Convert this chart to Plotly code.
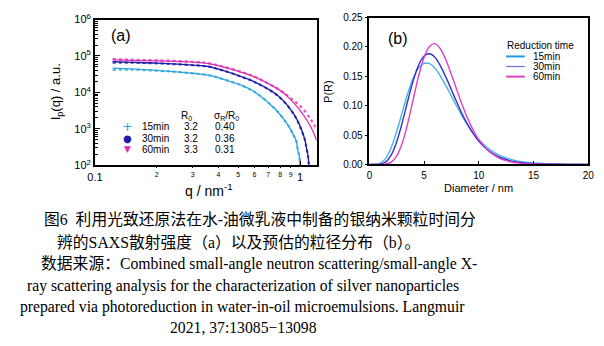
import plotly.graph_objects as go
import math

# ---------------- data: panel (a) scattering intensity ----------------
q15 = [0.122, 0.15, 0.2, 0.25, 0.3, 0.357, 0.42, 0.524, 0.606, 0.754, 0.874, 0.93, 0.957, 0.975, 0.992, 1.0]
I15_fit = [46300, 44200, 40300, 36800, 33600, 29800, 23300, 15300, 10000, 3570, 1270, 662, 483, 264, 173, 80]
I15_dat = [41700, 42000, 39500, 36500, 33400, 29700, 23200, 15200, 9950, 3550, 1260, 655, 478, 260, 170, 78]

q30 = [0.122, 0.15, 0.2, 0.3, 0.357, 0.42, 0.524, 0.606, 0.783, 0.939, 1.048, 1.075, 1.095, 1.106]
I30_fit = [69500, 67000, 63500, 56200, 51400, 40300, 26400, 18900, 8000, 2380, 580, 298, 173, 80]
I30_dat = [66000, 65500, 62800, 56000, 51200, 40100, 26300, 18800, 7950, 2360, 575, 295, 170, 78]

q60 = [0.122, 0.15, 0.2, 0.3, 0.357, 0.42, 0.524, 0.606, 0.812, 0.9, 1.011, 1.129, 1.205]
I60_fit = [78500, 76000, 73000, 67500, 62000, 50500, 35200, 26000, 10700, 6350, 2980, 1130, 483]
I60_dat = [82500, 79000, 76200, 69500, 63500, 51400, 35700, 26400, 10800, 6950, 4030, 1830, 940]

legend_names = ["15min", "30min", "60min"]
R0_vals = ["3.2", "3.2", "3.3"]
sig_vals = ["0.40", "0.36", "0.31"]

# ---------------- data: panel (b) size distribution ----------------
D = [0, 0.5, 1, 1.5, 2, 2.5, 3, 3.5, 4, 4.5, 5, 5.5, 6, 6.5, 7, 7.5, 8, 8.5, 9, 9.5, 10, 11, 12, 13, 14, 15, 16, 18, 20]
P15 = [0, 0, 0.0021, 0.0106, 0.0291, 0.0566, 0.0890, 0.1206, 0.1467, 0.1643, 0.1722, 0.1715, 0.1635, 0.1501,
       0.1337, 0.1159, 0.0982, 0.0815, 0.0663, 0.0532, 0.0421, 0.0253, 0.0145, 0.0081, 0.0043, 0.0023, 0.0012, 0.0003, 0.0001]
P30 = [0, 0, 0.0005, 0.0043, 0.0161, 0.0389, 0.0712, 0.1080, 0.1424, 0.1691, 0.1845, 0.1884, 0.1820, 0.1675,
       0.1482, 0.1268, 0.1053, 0.0851, 0.0672, 0.0520, 0.0395, 0.0217, 0.0113, 0.0056, 0.0027, 0.0012, 0.0006, 0.0001, 0]
P60 = [0, 0, 0, 0.0006, 0.0040, 0.0146, 0.0365, 0.0700, 0.1106, 0.1508, 0.1825, 0.2013, 0.2056, 0.1963,
       0.1773, 0.1527, 0.1261, 0.1004, 0.0774, 0.0579, 0.0422, 0.0210, 0.0096, 0.0041, 0.0017, 0.0007, 0.0002, 0, 0]

ytick_vals = [1e2, 1e3, 1e4, 1e5, 1e6]
ytick_text = ["10<sup>2</sup>", "10<sup>3</sup>", "10<sup>4</sup>", "10<sup>5</sup>", "10<sup>6</sup>"]
xmaj_vals = [0.1, 1]
xmaj_text = ["0.1", "1"]
xmin_vals = [0.2, 0.3, 0.4, 0.5, 0.6, 0.7, 0.8, 0.9]
xmin_text = ["2", "3", "4", "5", "6", "7", "8", "9"]

# caption: (cjk part, latin part) per line
caption = [
    ("图6  利用光致还原法在水-油微乳液中制备的银纳米颗粒时间分", ""),
    ("辨的SAXS散射强度（a）以及预估的粒径分布（b）。", ""),
    ("数据来源：", "Combined small-angle neutron scattering/small-angle X-"),
    ("", "ray scattering analysis for the characterization of silver nanoparticles"),
    ("", "prepared via photoreduction in water-in-oil microemulsions. Langmuir"),
    ("", "2021, 37:13085−13098"),
]

# ---------------- styles ----------------
W, H = 604, 346
CA = ["#2aa6e2", "#1c1ca8", "#e02cb4"]      # panel a colors
CB = ["#45b2ec", "#3434c4", "#e23ccc"]      # panel b colors
CL = ["#1e9be0", "#7474e2", "#e040c0"]      # legend b colors
SANS = "Liberation Sans, Arial, sans-serif"
SERIF = "Liberation Serif, Times New Roman, Noto Sans CJK SC, serif"


def px(x):
    return x / W


def py(y):
    return 1 - y / H


fig = go.Figure()

# panel (a)
for q, fit, dat, c in [(q15, I15_fit, I15_dat, CA[0]), (q30, I30_fit, I30_dat, CA[1]), (q60, I60_fit, I60_dat, CA[2])]:
    fig.add_trace(go.Scatter(x=q, y=dat, mode="lines", line=dict(color=c, width=2.2, dash="dot", shape="spline"),
                             xaxis="x", yaxis="y", opacity=0.8))
    fig.add_trace(go.Scatter(x=q, y=fit, mode="lines", line=dict(color=c, width=1.3, shape="spline"),
                             xaxis="x", yaxis="y"))
# invisible trace so that the minor-label axis is rendered
fig.add_trace(go.Scatter(x=q15, y=I15_fit, mode="lines", opacity=0, xaxis="x3", yaxis="y",
                         hoverinfo="skip", line=dict(width=0)))

# panel (b)
for p, c in zip([P15, P30, P60], CB):
    fig.add_trace(go.Scatter(x=D, y=p, mode="lines", line=dict(color=c, width=1.4, shape="spline"),
                             xaxis="x2", yaxis="y2"))

minor_y = [m * 10 ** e for e in range(2, 6) for m in range(2, 10)]

fig.update_layout(
    width=W, height=H, margin=dict(l=0, r=0, t=0, b=0),
    paper_bgcolor="white", plot_bgcolor="white", showlegend=False,
    font=dict(family=SANS, color="black", size=10),
    xaxis=dict(type="log", range=[-1, math.log10(1.205)], domain=[px(89), px(316)], anchor="y",
               showline=True, linecolor="black", linewidth=1.8, mirror=True,
               ticks="inside", ticklen=4, tickcolor="black", tickvals=xmaj_vals, ticktext=xmaj_text,
               tickfont=dict(size=11), showgrid=False, zeroline=False, ticklabelstandoff=1),
    xaxis3=dict(type="log", range=[-1, math.log10(1.205)], overlaying="x", anchor="y", side="bottom",
                ticks="outside", ticklen=2, tickcolor="black", tickvals=xmin_vals, ticktext=xmin_text,
                tickfont=dict(size=7), showgrid=False, zeroline=False, showline=False, ticklabelstandoff=0),
    yaxis=dict(type="log", range=[2, 6], domain=[py(164), py(12)], anchor="x",
               showline=True, linecolor="black", linewidth=1.8, mirror=True,
               ticks="inside", ticklen=5, tickcolor="black", tickvals=ytick_vals, ticktext=ytick_text,
               tickfont=dict(size=11), showgrid=False, zeroline=False,
               minor=dict(ticks="inside", ticklen=3, tickcolor="black", tickvals=minor_y, showgrid=False)),
    xaxis2=dict(range=[0, 20], domain=[px(370), px(594)], anchor="y2",
                showline=True, linecolor="black", linewidth=1.5, mirror=True,
                ticks="inside", ticklen=4, tickcolor="black", dtick=5, tick0=0,
                tickfont=dict(size=10), showgrid=False, zeroline=False, ticklabelstandoff=1),
    yaxis2=dict(range=[0, 0.25], domain=[py(163), py(10)], anchor="x2",
                showline=True, linecolor="black", linewidth=1.5, mirror=True,
                ticks="outside", ticklen=3, tickcolor="black", dtick=0.05, tick0=0, tickformat=".2f",
                tickfont=dict(size=10), showgrid=False, zeroline=False),
)

ann = []


def text(x, y, s, size, xanchor="center", color="black", family=SANS, angle=0):
    ann.append(dict(x=px(x), y=py(y), xref="paper", yref="paper", text=s, showarrow=False,
                    xanchor=xanchor, yanchor="middle", textangle=angle,
                    font=dict(size=size, color=color, family=family)))


# panel (a) labels
text(115.5, 29, "(a)", 16)
text(50, 87, "I<sub>p</sub>(q) / a.u.", 13, angle=-90)
text(206, 190, "q / nm<sup>-1</sup>", 14)
text(183, 113, "R<sub>0</sub>", 10)
text(223.5, 113, "σ<sub>R</sub>/R<sub>0</sub>", 10)
rows_y = [124, 135.5, 147]
symbols = ["+", "●", "▼"]
sym_size = [13, 10, 9]
for i in range(3):
    text(122, rows_y[i], symbols[i], sym_size[i], color=CA[i], family="DejaVu Sans")
    text(135, rows_y[i], legend_names[i], 10, xanchor="left")
    text(187, rows_y[i], R0_vals[i], 10)
    text(222, rows_y[i], sig_vals[i], 10)

# panel (b) labels
text(399, 32, "(b)", 16)
text(328, 87, "P(R)", 11, angle=-90)
text(482, 188, "Diameter / nm", 11)
text(509, 39.5, "Reduction time", 10, xanchor="left")
rows_b = [50.5, 61, 71.5]
shapes = []
for i in range(3):
    text(535.5, rows_b[i], legend_names[i], 10, xanchor="left")
    shapes.append(dict(type="line", xref="paper", yref="paper", x0=px(510), x1=px(529),
                       y0=py(rows_b[i]), y1=py(rows_b[i]), line=dict(color=CL[i], width=2 if i != 1 else 1.3)))

# caption
cap_pos = [(35, 220), (48, 244), (32, 267), (17, 290), (10, 312), (164, 333)]
for (x, y), (cjk, lat) in zip(cap_pos, caption):
    s = ""
    if cjk:
        s += '<span style="font-size:15.8px">' + cjk + "</span>"
    if lat:
        s += lat
    text(x, y, s, 15.7, xanchor="left", family=SERIF)

fig.update_layout(annotations=ann, shapes=shapes)
fig.write_html("out.html")
